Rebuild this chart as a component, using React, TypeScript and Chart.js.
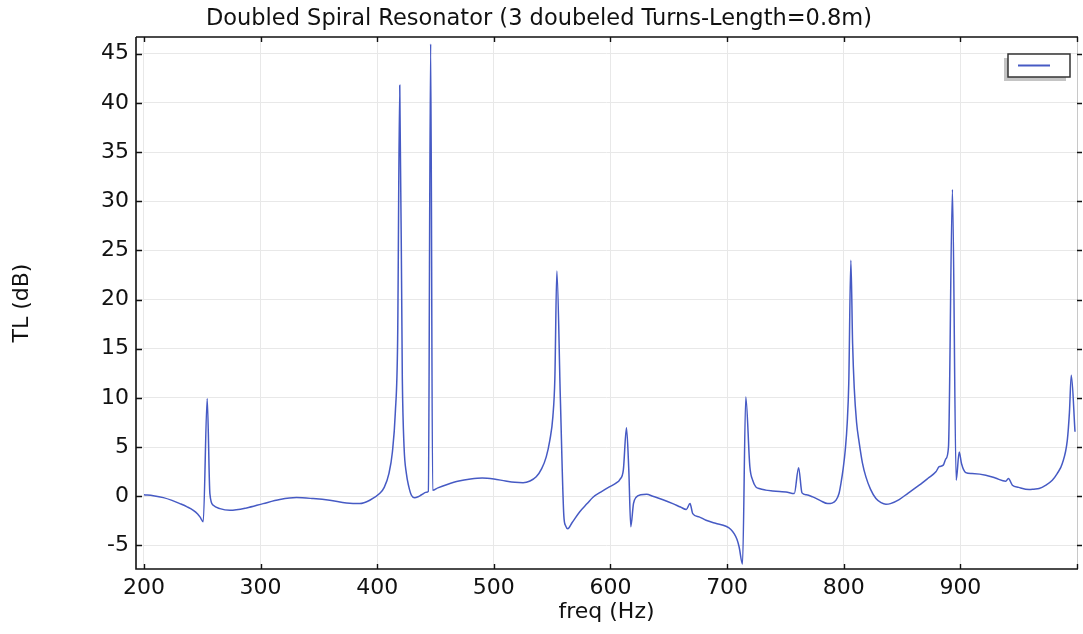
import React, { useEffect, useRef } from 'react';
import { Chart, registerables } from 'chart.js';

Chart.register(...registerables);

const TITLE = 'Doubled Spiral Resonator (3 doubeled Turns-Length=0.8m)';
const X_LABEL = 'freq (Hz)';
const Y_LABEL = 'TL (dB)';

const freq: number[] = [
  200, 208, 216.6, 224, 230.8, 237, 242.3, 246, 248, 250.8, 254.2, 256.5, 259.4, 265.1, 273.7,
  288, 302.2, 316.5, 330.8, 345, 359.3, 373.6, 385, 393.6, 402, 406, 410, 413, 415.5, 417.5,
  419.3, 421.5, 423, 425, 427, 429.3, 432, 435, 438, 442, 443.8, 445.8, 447.5, 452, 460,
  470, 480, 490, 500, 510, 518, 525, 531, 536.3, 541, 544.9, 548, 550.6, 552.3, 554,
  557, 560, 561.5, 563.4, 567, 573.5, 580, 585, 592, 599, 605, 608, 611, 613.7, 615.7,
  617.4, 619.7, 622, 626, 631, 636.3, 645, 653.4, 660, 665, 668.2, 670.5, 676, 681.9, 690,
  699, 703, 706, 708.5, 710.3, 713.2, 716, 719.5, 722, 724.6, 727.4, 733, 739, 745, 750.5,
  757.6, 761.3, 764.2, 768, 773.4, 780, 786.2, 790, 793.4, 796, 797.6, 799.5, 801.3, 803, 804.3,
  806.1, 807.6, 809, 811, 813.3, 816, 819, 823, 827.6, 832, 836.2, 840, 847.5, 855, 864.7,
  872, 879, 881.8, 885.3, 887.5, 889.8, 893.2, 896.4, 899, 901, 904.6, 910, 921.8, 930, 938.9,
  941.2, 944.6, 950, 958.9, 963, 967.5, 973, 978.8, 983, 987.4, 991.7, 993.5, 995.1, 998.3,
];

const tl: number[] = [
  0.15, 0.05, -0.14, -0.42, -0.75, -1.08, -1.43, -1.8, -2.1, -2.6, 9.95, 0.27, -0.92, -1.26, -1.43,
  -1.19, -0.75, -0.34, -0.14, -0.24, -0.41, -0.68, -0.75, -0.41, 0.27, 0.9, 2.3, 4.5, 8.5, 16,
  41.8, 12, 5, 2.3, 1.0, 0.1, -0.15, -0.05, 0.15, 0.4, 0.5, 46.0, 0.6, 0.85, 1.2,
  1.55, 1.75, 1.85, 1.75, 1.55, 1.42, 1.38, 1.55, 1.97, 2.8, 4.0, 5.7, 8.1, 12, 22.9,
  10, -2.0, -3.0, -3.3, -2.7, -1.6, -0.75, -0.1, 0.45, 0.95, 1.35, 1.7, 2.65, 6.96, 2.65,
  -3.1, -0.75, -0.1, 0.15, 0.2, 0.0, -0.35, -0.75, -1.1, -1.35, -0.75, -1.77, -2.1, -2.44, -2.75,
  -3.05, -3.35, -3.8, -4.4, -5.16, -6.9, 10.1, 3.0, 1.6, 0.95, 0.78, 0.62, 0.54, 0.48, 0.44,
  0.27, 2.9, 0.34, 0.15, -0.07, -0.45, -0.75, -0.7, -0.4, 0.3, 1.3, 2.8, 4.7, 7.5, 11.5,
  24.0, 15.5, 11, 7.5, 5.4, 3.4, 1.97, 0.7, -0.24, -0.65, -0.81, -0.75, -0.34, 0.3, 1.12,
  1.8, 2.48, 3.0, 3.16, 3.8, 5.0, 31.2, 1.63, 4.5, 3.3, 2.4, 2.3, 2.14, 1.85, 1.53,
  1.8, 1.12, 0.9, 0.68, 0.72, 0.78, 1.1, 1.63, 2.3, 3.33, 5.7, 8.5, 12.3, 6.55,
];

const xTickValues: number[] = [200, 300, 400, 500, 600, 700, 800, 900, 1000];
const xTickLabels: string[] = ['200', '300', '400', '500', '600', '700', '800', '900', ''];
const yTickValues: number[] = [-5, 0, 5, 10, 15, 20, 25, 30, 35, 40, 45];
const yTickLabels: string[] = ['-5', '0', '5', '10', '15', '20', '25', '30', '35', '40', '45'];

const X_MIN = 193.15;
const X_MAX = 1000;
const Y_MIN = -7.4;
const Y_MAX = 46.7;

const LINE_COLOR = 'rgb(70,90,196)';
const FONT = "'DejaVu Sans', sans-serif";

export default function App() {
  const ref = useRef<HTMLCanvasElement>(null);

  useEffect(() => {
    if (!ref.current) return;

    const framePlugin = {
      id: 'frame',
      afterDraw(chart: any) {
        const { ctx, chartArea } = chart;
        const { left, right, top, bottom } = chartArea;
        const xs = chart.scales.x;
        const ys = chart.scales.y;
        ctx.save();
        ctx.strokeStyle = '#c8c8c8';
        ctx.lineWidth = 1;
        ctx.beginPath();
        ctx.moveTo(right + 0.5, top);
        ctx.lineTo(right + 0.5, bottom);
        ctx.stroke();
        ctx.strokeStyle = '#111';
        ctx.lineWidth = 1.6;
        ctx.beginPath();
        ctx.moveTo(left, top);
        ctx.lineTo(left, bottom);
        ctx.lineTo(right + 1, bottom);
        ctx.moveTo(left, top);
        ctx.lineTo(right + 1, top);
        ctx.stroke();
        ctx.lineWidth = 1.4;
        ctx.beginPath();
        xs.ticks.forEach((t: any) => {
          const px = Math.round(xs.getPixelForValue(t.value)) + 0.5;
          ctx.moveTo(px, bottom);
          ctx.lineTo(px, bottom - 5);
          ctx.moveTo(px, top);
          ctx.lineTo(px, top + 5);
        });
        ys.ticks.forEach((t: any) => {
          const py = Math.round(ys.getPixelForValue(t.value)) + 0.5;
          ctx.moveTo(left, py);
          ctx.lineTo(left + 6, py);
          ctx.moveTo(right, py);
          ctx.lineTo(right + 5, py);
        });
        ctx.stroke();

        const bx = 1008, by = 54, bw = 62, bh = 23;
        ctx.fillStyle = '#c4c4c4';
        ctx.fillRect(bx - 4, by + 4, bw, bh);
        ctx.fillStyle = '#fff';
        ctx.fillRect(bx, by, bw, bh);
        ctx.strokeStyle = '#333';
        ctx.lineWidth = 1.5;
        ctx.strokeRect(bx, by, bw, bh);
        ctx.strokeStyle = LINE_COLOR;
        ctx.lineWidth = 2;
        ctx.beginPath();
        ctx.moveTo(bx + 10, by + 11.5);
        ctx.lineTo(bx + 42, by + 11.5);
        ctx.stroke();
        ctx.restore();
      },
    };

    const chart = new Chart(ref.current, {
      type: 'line',
      data: {
        datasets: [
          {
            label: '',
            data: freq.map((f, i) => ({ x: f, y: tl[i] })),
            borderColor: LINE_COLOR,
            borderWidth: 1.5,
            pointRadius: 0,
            fill: false,
            cubicInterpolationMode: 'monotone',
          },
        ],
      },
      options: {
        responsive: false,
        animation: false,
        devicePixelRatio: 1,
        layout: { padding: { left: 0, right: 5, top: 0, bottom: 0 } },
        plugins: {
          legend: { display: false },
          tooltip: { enabled: false },
          title: {
            display: true,
            text: TITLE,
            color: '#111',
            font: { family: FONT, size: 22.5, weight: 'normal', lineHeight: 1.2 },
            padding: { top: 6, bottom: 4 },
          },
        },
        scales: {
          x: {
            type: 'linear',
            min: X_MIN,
            max: X_MAX,
            afterBuildTicks: (s: any) => {
              s.ticks = xTickValues.map((v) => ({ value: v }));
            },
            afterFit: (s: any) => {
              s.height = 65;
            },
            border: { display: false },
            grid: { color: '#e8e8e8', drawTicks: false, lineWidth: 1 },
            ticks: {
              autoSkip: false,
              maxRotation: 0,
              padding: 6,
              color: '#111',
              font: { family: FONT, size: 22 },
              callback: (v: any) => {
                const i = xTickValues.indexOf(Number(v));
                return i >= 0 ? xTickLabels[i] : '';
              },
            },
            title: {
              display: true,
              text: X_LABEL,
              color: '#111',
              font: { family: FONT, size: 22 },
              padding: { top: 0, bottom: 9 },
            },
          },
          y: {
            type: 'linear',
            min: Y_MIN,
            max: Y_MAX,
            afterBuildTicks: (s: any) => {
              s.ticks = yTickValues.map((v) => ({ value: v }));
            },
            afterFit: (s: any) => {
              s.width = 136;
            },
            border: { display: false },
            grid: { color: '#e8e8e8', drawTicks: false, lineWidth: 1 },
            ticks: {
              autoSkip: false,
              padding: 7,
              color: '#111',
              font: { family: FONT, size: 22 },
              callback: (v: any) => {
                const i = yTickValues.indexOf(Number(v));
                return i >= 0 ? yTickLabels[i] : '';
              },
            },
            title: {
              display: true,
              text: Y_LABEL,
              color: '#111',
              font: { family: FONT, size: 22 },
              padding: { top: 9, bottom: 0 },
            },
          },
        },
      },
      plugins: [framePlugin],
    } as any);

    return () => chart.destroy();
  }, []);

  return (
    <div style={{ position: 'fixed', left: 0, top: 0, width: 1083, height: 634, background: '#fff' }}>
      <canvas ref={ref} width={1083} height={634} style={{ display: 'block' }} />
    </div>
  );
}
